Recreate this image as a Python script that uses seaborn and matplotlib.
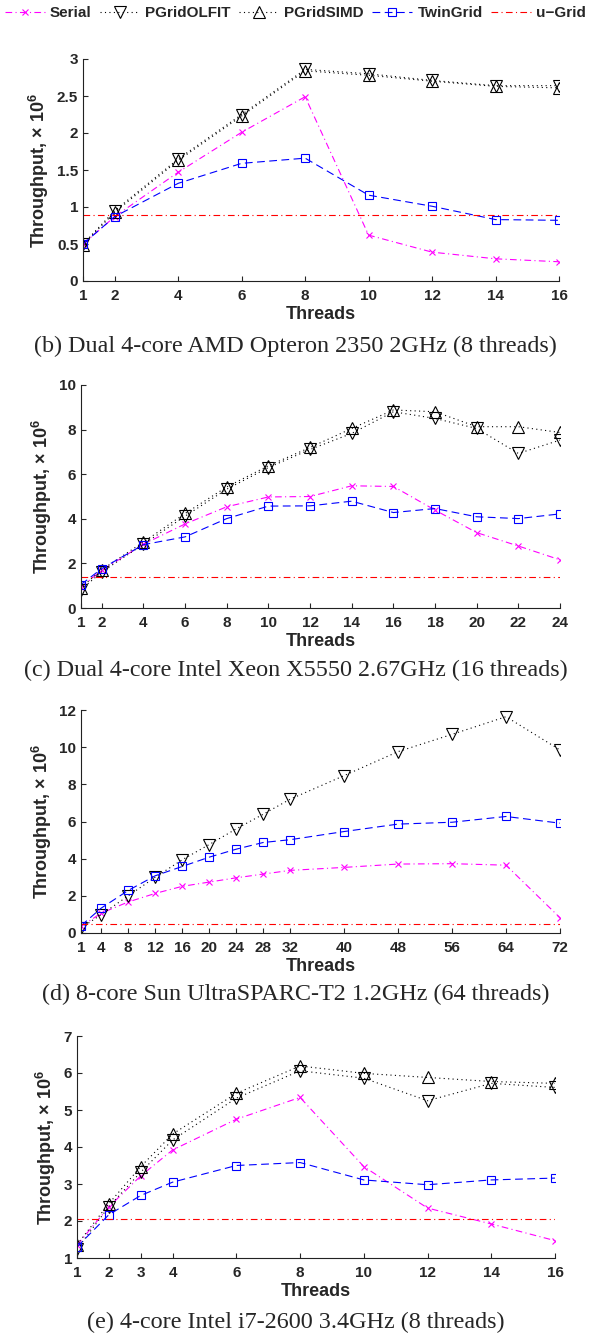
"""
Throughput vs. number of threads for four machines

Serial, PGridOLFIT, PGridSIMD, TwinGrid and u-Grid
"""


import matplotlib
matplotlib.use('Agg')
import matplotlib.pyplot as plt
from matplotlib.ticker import FuncFormatter
import seaborn as sns


# Panel (b): Dual 4-core AMD Opteron 2350
threads_b = [1, 2, 4, 6, 8, 10, 12, 14, 16]
serial_b = [0.50, 0.87, 1.47, 2.01, 2.49, 0.62, 0.39, 0.30, 0.26]
olfit_b = [0.50, 0.95, 1.65, 2.25, 2.86, 2.80, 2.71, 2.64, 2.64]
simd_b = [0.49, 0.93, 1.63, 2.23, 2.84, 2.78, 2.70, 2.63, 2.61]
twingrid_b = [0.50, 0.87, 1.32, 1.59, 1.66, 1.16, 1.01, 0.83, 0.82]
ugrid_b = 0.89

# Panel (c): Dual 4-core Intel Xeon X5550
threads_c = [1, 2, 4, 6, 8, 10, 12, 14, 16, 18, 20, 22, 24]
serial_c = [0.94, 1.69, 2.86, 3.77, 4.54, 4.98, 5.00, 5.48, 5.45, 4.39, 3.38, 2.78, 2.16]
olfit_c = [0.82, 1.62, 2.86, 4.12, 5.33, 6.30, 7.11, 7.83, 8.80, 8.50, 8.05, 6.93, 7.53]
simd_c = [0.91, 1.72, 2.96, 4.24, 5.43, 6.38, 7.20, 8.05, 8.88, 8.80, 8.13, 8.13, 7.87]
twingrid_c = [1.05, 1.77, 2.84, 3.19, 4.01, 4.57, 4.58, 4.79, 4.28, 4.46, 4.09, 4.01, 4.22]
ugrid_c = 1.41

# Panel (d): 8-core Sun UltraSPARC-T2 (no PGridSIMD run)
threads_d = [1, 4, 8, 12, 16, 20, 24, 28, 32, 40, 48, 56, 64, 72]
serial_d = [0.36, 1.07, 1.67, 2.13, 2.51, 2.74, 2.97, 3.17, 3.37, 3.53, 3.71, 3.73, 3.65, 0.82]
olfit_d = [0.27, 0.99, 2.00, 3.00, 3.94, 4.76, 5.60, 6.39, 7.20, 8.47, 9.76, 10.69, 11.64, 9.85]
twingrid_d = [0.39, 1.34, 2.29, 3.08, 3.58, 4.08, 4.51, 4.87, 5.02, 5.46, 5.86, 5.96, 6.27, 5.91]
ugrid_d = 0.47

# Panel (e): 4-core Intel i7-2600
threads_e = [1, 2, 3, 4, 6, 8, 10, 12, 14, 16]
serial_e = [1.35, 2.38, 3.22, 3.92, 4.75, 5.34, 3.47, 2.35, 1.92, 1.47]
olfit_e = [1.24, 2.39, 3.32, 4.19, 5.32, 6.06, 5.86, 5.25, 5.72, 5.61]
simd_e = [1.36, 2.47, 3.47, 4.35, 5.45, 6.19, 5.99, 5.88, 5.77, 5.72]
twingrid_e = [1.30, 2.17, 2.69, 3.05, 3.50, 3.58, 3.11, 2.98, 3.11, 3.16]
ugrid_e = 2.05

captions = ['(b) Dual 4-core AMD Opteron 2350 2GHz (8 threads)',
            '(c) Dual 4-core Intel Xeon X5550 2.67GHz (16 threads)',
            '(d) 8-core Sun UltraSPARC-T2 1.2GHz (64 threads)',
            '(e) 4-core Intel i7-2600 3.4GHz (8 threads)']


# General plot parameters
W, H = 591, 1336
dpi = 100
tick_font = 11
label_font = 13


def px_axes(fig, left, right, top, bottom):
    """
    Add an axes given its edges in pixels
    """
    return fig.add_axes([left / W, 1 - bottom / H, (right - left) / W, (bottom - top) / H])


def draw_panel(ax, threads, serial, olfit, simd, twingrid, ugrid, ylim, yticks):
    """
    Plot one machine's throughput curves
    """

    # Serial
    sns.lineplot(x=threads, y=serial, ax=ax, errorbar=None, color='#ff00ff',
                 linestyle=(0, (6, 3, 1, 3)), linewidth=0.8, marker='x',
                 markersize=5, markeredgecolor='#ff00ff', markeredgewidth=0.8,
                 label='Serial')

    # PGridOLFIT
    sns.lineplot(x=threads, y=olfit, ax=ax, errorbar=None, color='k',
                 linestyle=(0, (1, 3)), linewidth=0.8, marker='v',
                 markersize=8, markeredgecolor='k', markerfacecolor='none',
                 markeredgewidth=0.8, label='PGridOLFIT')

    # PGridSIMD
    if simd is not None:
        sns.lineplot(x=threads, y=simd, ax=ax, errorbar=None, color='k',
                     linestyle=(0, (1, 3)), linewidth=0.8, marker='^',
                     markersize=8, markeredgecolor='k', markerfacecolor='none',
                     markeredgewidth=0.8, label='PGridSIMD')

    # TwinGrid
    sns.lineplot(x=threads, y=twingrid, ax=ax, errorbar=None, color='#0000ff',
                 linestyle=(0, (7, 4)), linewidth=0.8, marker='s',
                 markersize=6, markeredgecolor='#0000ff', markerfacecolor='none',
                 markeredgewidth=0.8, label='TwinGrid')

    # u-Grid is a flat line over the whole thread range
    sns.lineplot(x=[threads[0], threads[-1]], y=[ugrid, ugrid], ax=ax,
                 errorbar=None, color='#ff0000', linestyle=(0, (6, 3, 1, 3)),
                 linewidth=0.8, label='u\u2212Grid')

    # Axes
    ax.set_xlim(threads[0], threads[-1])
    ax.set_xticks(threads)
    ax.set_ylim(*ylim)
    ax.set_yticks(yticks)
    ax.yaxis.set_major_formatter(FuncFormatter(lambda v, p: f'{v:g}'))
    ax.tick_params(direction='in', length=3.5, width=0.8, labelsize=tick_font)
    ax.tick_params(axis='x', pad=6)
    ax.tick_params(axis='y', pad=3.5)
    for lab in ax.get_xticklabels() + ax.get_yticklabels():
        lab.set_fontweight('bold')
    ax.set_xlabel('Threads', fontsize=label_font, fontweight='bold', labelpad=2)
    ax.set_ylabel('Throughput, \u00d7 10$^{6}$', fontsize=label_font,
                  fontweight='bold', labelpad=4)
    for side in ['left', 'bottom']:
        ax.spines[side].set_linewidth(0.8)
        ax.spines[side].set_color('#222222')
    sns.despine(ax=ax)
    ax.get_legend().remove()


def main():
    """
    Build the four panels and the shared legend
    """

    sns.set_style('ticks')
    plt.rcParams['font.family'] = ['Liberation Sans', 'DejaVu Sans']
    plt.rcParams['mathtext.fontset'] = 'custom'
    plt.rcParams['mathtext.rm'] = 'Liberation Sans:bold'
    plt.rcParams['mathtext.it'] = 'Liberation Sans:bold'
    plt.rcParams['mathtext.bf'] = 'Liberation Sans:bold'

    fig = plt.figure(figsize=(W / dpi, H / dpi), dpi=dpi)
    fig.patch.set_color('w')

    ax_b = px_axes(fig, 83, 559, 59, 281)
    ax_c = px_axes(fig, 81, 560, 385, 608)
    ax_d = px_axes(fig, 81, 560, 710, 933)
    ax_e = px_axes(fig, 77, 555, 1036, 1258)

    draw_panel(ax_b, threads_b, serial_b, olfit_b, simd_b, twingrid_b, ugrid_b,
               (0, 3), [0, 0.5, 1, 1.5, 2, 2.5, 3])
    draw_panel(ax_c, threads_c, serial_c, olfit_c, simd_c, twingrid_c, ugrid_c,
               (0, 10), [0, 2, 4, 6, 8, 10])
    draw_panel(ax_d, threads_d, serial_d, olfit_d, None, twingrid_d, ugrid_d,
               (0, 12), [0, 2, 4, 6, 8, 10, 12])
    draw_panel(ax_e, threads_e, serial_e, olfit_e, simd_e, twingrid_e, ugrid_e,
               (1, 7), [1, 2, 3, 4, 5, 6, 7])

    # Captions under each panel
    for cap, y in zip(captions, [346, 670, 994, 1322]):
        fig.text(0.5, 1 - y / H, cap, ha='center', va='center',
                 family=['Liberation Serif', 'DejaVu Serif'], fontsize=17.4)

    # Shared legend along the top
    handles = ax_b.get_lines()
    labels = [h.get_label() for h in handles]
    fig.legend(handles, labels, loc='center', bbox_to_anchor=(0.5, 1 - 13 / H),
               ncol=5, frameon=False, numpoints=1, handlelength=2.6,
               handletextpad=0.35, columnspacing=0.55, borderaxespad=0,
               prop={'weight': 'bold', 'size': 11})

    fig.savefig('out.png', dpi=dpi, facecolor='w')
    plt.close(fig)


if __name__ == '__main__':
    main()
